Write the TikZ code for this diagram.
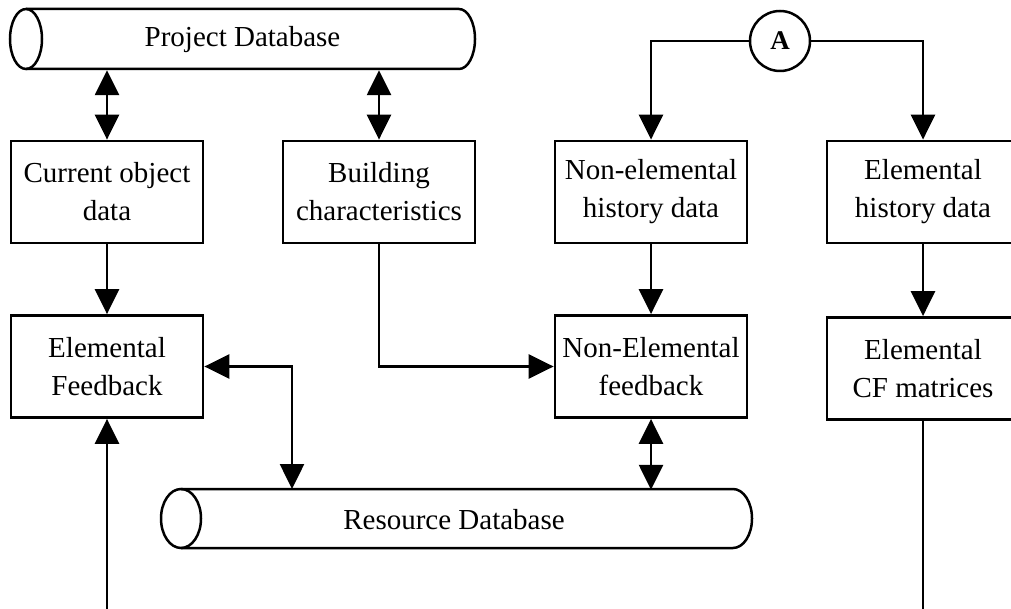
\documentclass[tikz,border=0pt]{standalone}
\usepackage{fontspec}
\setmainfont{Liberation Serif}
\usetikzlibrary{arrows.meta,calc}
\begin{document}
\begin{tikzpicture}[x=1pt,y=-1pt,
  box/.style={draw,line width=2.8pt,minimum width=192pt,minimum height=102pt,inner sep=0pt,align=center,font=\fontsize{29}{38}\selectfont},
  dbtext/.style={inner sep=0pt,font=\fontsize{29}{38}\selectfont},
  cyl/.style={line width=2.5pt},
  conn/.style={line width=2.6pt},
  tip/.style={-{Triangle[length=25pt,width=24pt]}},
  dtip/.style={{Triangle[length=25pt,width=24pt]}-{Triangle[length=25pt,width=24pt]}},
  circ/.style={draw,circle,line width=2.5pt,minimum size=60pt,inner sep=0pt,font=\fontsize{27}{28}\selectfont\bfseries}]
\clip (0,0) rectangle (1011,609);
% Project Database cylinder
\draw[cyl] (26,9) -- (459,9) arc[start angle=-90,end angle=90,x radius=16,y radius=30] -- (26,69);
\draw[cyl] (26,39) ellipse [x radius=16, y radius=30];
\node[dbtext,minimum width=465pt,minimum height=60pt] (pdb) at (242.5,40) {Project Database};
% Resource Database cylinder
\draw[cyl] (181,489) -- (733,489) arc[start angle=-90,end angle=90,x radius=19,y radius=29.5] -- (181,548);
\draw[cyl] (181,518.5) ellipse [x radius=20, y radius=29.5];
\node[dbtext,minimum width=591pt,minimum height=59pt] (rdb) at (454,519.5) {Resource Database};
% boxes
\node[box] (cod) at (107,192) {Current object\\data};
\node[box] (bc)  at (379,192) {Building\\characteristics};
\node[box] (neh) at (651,192) {Non-elemental\\history data};
\node[box] (eh)  at (923,192) {Elemental\\history data};
\node[box] (ef)  at (107,366.5) {Elemental\\Feedback};
\node[box] (nef) at (651,366.5) {Non-Elemental\\feedback};
\node[box] (ecf) at (923,368.5) {Elemental\\CF matrices};
\node[circ] (A) at (780,41) {A};
\coordinate (rdbL) at (292,489);
\coordinate (bl) at (107,609);
\coordinate (br) at (923,609);
% connectors
\draw[conn,dtip] (cod.north |- pdb.south) -- (cod.north);
\draw[conn,dtip] (bc.north |- pdb.south) -- (bc.north);
\draw[conn,tip] (A.west) -| (neh.north);
\draw[conn,tip] (A.east) -| (eh.north);
\draw[conn,tip] (cod.south) -- (ef.north);
\draw[conn,tip] (neh.south) -- (nef.north);
\draw[conn,tip] (eh.south) -- (ecf.north);
\draw[conn,tip] (bc.south) |- (nef.west);
\draw[conn,dtip] (ef.east) -| (rdbL);
\draw[conn,dtip] (nef.south) -- (nef.south |- rdb.north);
\draw[conn,tip] (bl) -- (ef.south);
\draw[conn] (ecf.south) -- (br);
\end{tikzpicture}
\end{document}
